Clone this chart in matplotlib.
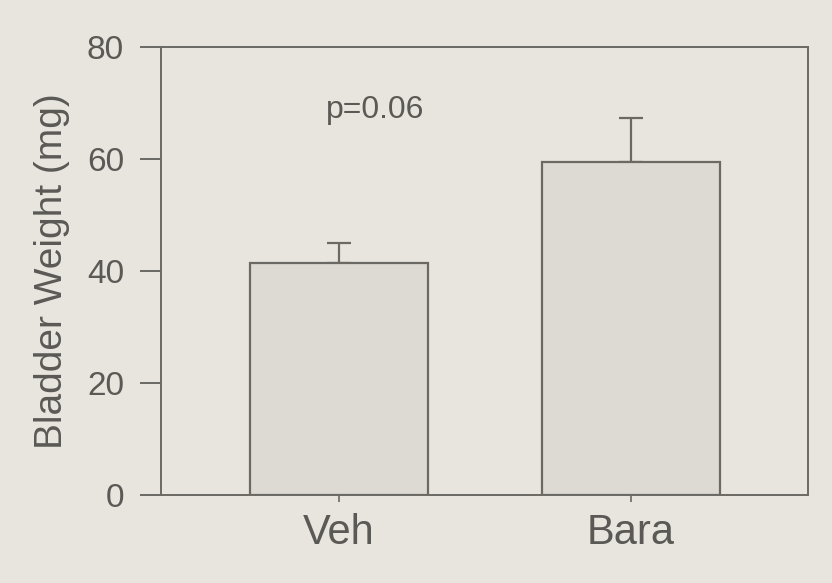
import matplotlib
matplotlib.use("Agg")
import matplotlib.pyplot as plt
from matplotlib import font_manager

groups = ["Veh", "Bara"]
means = [41.5, 59.5]
sem_up = [3.5, 7.8]
yticks = [0, 20, 40, 60, 80]
note = "p=0.06"

BG = "#e8e5de"
FILL = "#dcdad2"
EDGE = "#6a6964"
TXT = "#5a5955"

names = {f.name for f in font_manager.fontManager.ttflist}
fam = ["Liberation Sans Narrow", "Liberation Sans", "DejaVu Sans"]
fam = [f for f in fam if f in names] or ["DejaVu Sans"]
plt.rcParams["font.family"] = fam

fig = plt.figure(figsize=(8.32, 5.83), dpi=100, facecolor=BG)
ax = fig.add_axes([0.194, 0.151, 0.777, 0.768], facecolor=BG)

x = list(range(len(groups)))
ax.bar(x, means, width=0.61, color=FILL, edgecolor=EDGE, linewidth=1.6, zorder=2)
ax.errorbar(x, means, yerr=[[0] * len(means), sem_up], fmt="none",
            ecolor=EDGE, elinewidth=1.6, capsize=8.5, capthick=1.6, zorder=1)

ax.set_xlim(-0.607, 1.605)
ax.set_ylim(0, 80)
ax.set_yticks(yticks)
ax.set_xticks(x)
ax.set_xticklabels(groups, fontsize=30, color=TXT)
ax.tick_params(axis="y", labelsize=24, colors=TXT, length=15, width=1.4,
               color=EDGE, pad=12)
ax.tick_params(axis="x", length=5, width=1.2, color=EDGE, pad=8)
for s in ax.spines.values():
    s.set_color(EDGE)
    s.set_linewidth(1.4)
ax.set_ylabel("Bladder Weight (mg)", fontsize=28, color=TXT, labelpad=12)
ax.text(0.33, 0.86, note, transform=ax.transAxes, ha="center", va="center",
        fontsize=23, color=TXT)

fig.savefig("out.png", dpi=100, facecolor=BG)
